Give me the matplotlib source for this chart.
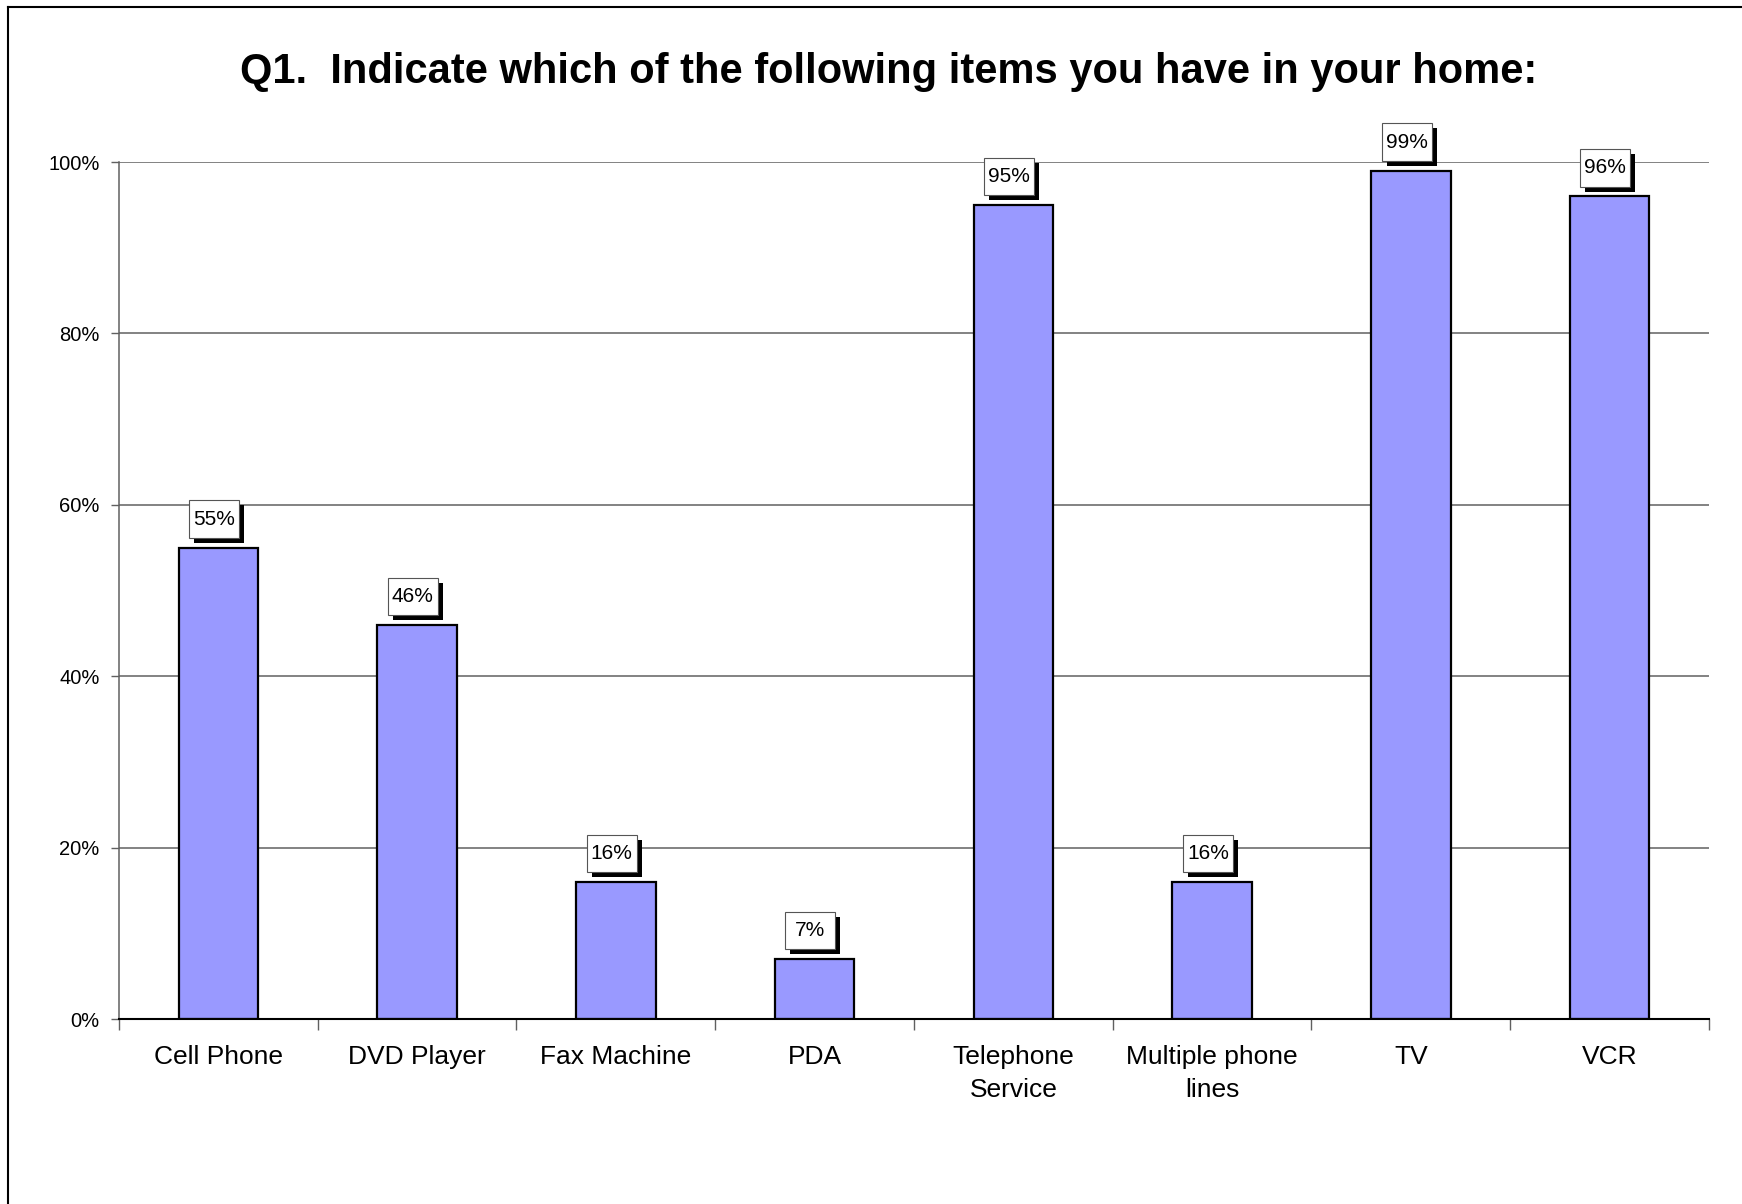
import matplotlib
matplotlib.use("Agg")
import matplotlib.pyplot as plt
from matplotlib.lines import Line2D
from matplotlib.patches import Rectangle
from matplotlib.transforms import Affine2D, ScaledTranslation
import numpy as np

plt.rcParams['font.family'] = ['Liberation Sans', 'DejaVu Sans']

# data
items = ["Cell Phone", "DVD Player", "Fax Machine", "PDA", "Telephone\nService",
         "Multiple phone\nlines", "TV", "VCR"]
shares = [55, 46, 16, 7, 95, 16, 99, 96]
yticks = [0, 20, 40, 60, 80, 100]

fig = plt.figure(figsize=(17.42, 12.04), dpi=100)
ax = fig.add_axes([0.0683, 0.1536, 0.9127, 0.7118])

x = np.arange(len(items))
ax.bar(x, shares, width=0.4, color="#9999FF", edgecolor="black", linewidth=1.6, zorder=3)

ax.set_xlim(-0.5, len(items) - 0.5)
ax.set_ylim(0, 100)

# gridlines
ax.set_yticks(yticks)
ax.set_yticklabels([f"{v}%" for v in yticks], fontsize=14.5)
ax.yaxis.grid(True, color="#606060", linewidth=1.1, zorder=0)
ax.tick_params(axis="y", length=6, width=1, color="#606060", pad=8)

ax.set_xticks(x)
ax.set_xticklabels(items, fontsize=19, linespacing=1.45)
ax.tick_params(axis="x", which="major", length=0, pad=19)
ax.set_xticks(np.arange(-0.5, len(items), 1), minor=True)
ax.tick_params(axis="x", which="minor", length=8, width=1, color="#606060")

for side in ["top", "right"]:
    ax.spines[side].set_visible(False)
ax.spines["left"].set_color("#606060")
ax.spines["left"].set_linewidth(1.1)
ax.spines["bottom"].set_color("black")
ax.spines["bottom"].set_linewidth(1.5)
ax.spines["bottom"].set_zorder(4)

# value labels: white box with black drop shadow, sized in points above the bar top
box_w, box_h, gap, dx, sh = 36, 27, 7, -3, 3.6
pts = Affine2D().scale(fig.dpi / 72)
for xi, v in zip(x, shares):
    tr = pts + ScaledTranslation(xi, v, ax.transData)
    ax.add_patch(Rectangle((dx - box_w / 2 + sh, gap - sh), box_w, box_h, transform=tr,
                           fc="black", ec="none", zorder=5, clip_on=False))
    ax.add_patch(Rectangle((dx - box_w / 2, gap), box_w, box_h, transform=tr,
                           fc="white", ec="#555555", lw=0.8, zorder=6, clip_on=False))
    ax.annotate(f"{v}%", (xi, v), xytext=(dx, gap + box_h / 2), textcoords="offset points",
                ha="center", va="center", fontsize=15, zorder=7)

fig.text(0.51, 0.940, "Q1.  Indicate which of the following items you have in your home:",
         ha="center", va="center", fontsize=30, fontweight="bold")

# chart area border (top and left visible)
fig.add_artist(Line2D([8 / 1742, 1.0], [1 - 7 / 1204, 1 - 7 / 1204],
                      transform=fig.transFigure, color="black", lw=1.5))
fig.add_artist(Line2D([8 / 1742, 8 / 1742], [0, 1 - 7 / 1204],
                      transform=fig.transFigure, color="black", lw=1.5))

fig.savefig("out.png", dpi=100)
